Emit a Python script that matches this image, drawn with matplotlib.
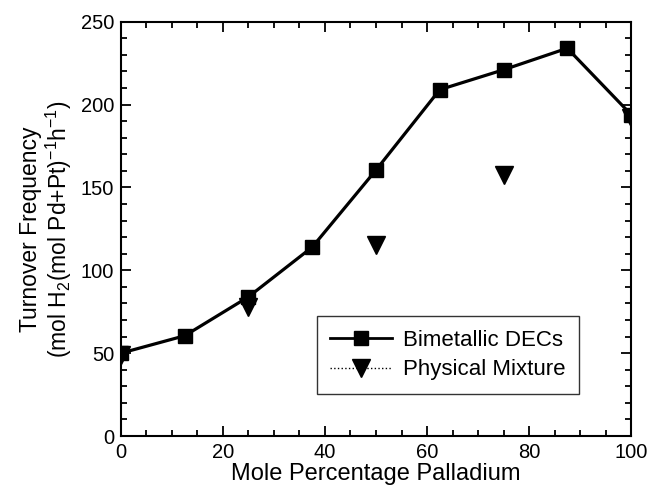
import matplotlib
matplotlib.use("Agg")
import matplotlib.pyplot as plt
from matplotlib.lines import Line2D
from matplotlib.ticker import MultipleLocator

plt.rcParams['font.family'] = ['Liberation Sans', 'DejaVu Sans']
plt.rcParams['mathtext.fontset'] = 'custom'
plt.rcParams['mathtext.rm'] = 'Liberation Sans'
plt.rcParams['mathtext.it'] = 'Liberation Sans'

bimetallic_x = [0, 12.5, 25, 37.5, 50, 62.5, 75, 87.5, 100]
bimetallic_y = [50, 60.5, 84, 114, 160.5, 209, 221, 234, 194]
mixture_x = [0, 25, 50, 75, 100]
mixture_y = [49, 78, 115, 157.5, 192]

fig = plt.figure(figsize=(6.49, 4.94), dpi=100)
ax = fig.add_axes([0.1864, 0.1174, 0.9723 - 0.1864, 0.956 - 0.1174])

ax.plot(bimetallic_x, bimetallic_y, color='black', lw=2.3, marker='s', ms=10, zorder=3)
ax.plot(mixture_x, mixture_y, color='black', ls='none', marker='v', ms=13, zorder=2)

ax.set_xlim(0, 100)
ax.set_ylim(0, 250)
ax.xaxis.set_major_locator(MultipleLocator(20))
ax.xaxis.set_minor_locator(MultipleLocator(5))
ax.yaxis.set_major_locator(MultipleLocator(50))
ax.yaxis.set_minor_locator(MultipleLocator(10))
ax.tick_params(which='both', direction='in', top=True, right=True, width=1.3, labelsize=14.5)
ax.tick_params(which='major', length=7, pad=5)
ax.tick_params(which='minor', length=4)
for s in ax.spines.values():
    s.set_linewidth(1.5)

ax.set_xlabel('Mole Percentage Palladium', fontsize=17, labelpad=1)
ax.set_ylabel('Turnover Frequency\n(mol H$_2$(mol Pd+Pt)$^{-1}$h$^{-1}$)', fontsize=16.5, labelpad=5, linespacing=1.05)

handles = [
    Line2D([], [], color='black', lw=2, marker='s', ms=10),
    Line2D([], [], color='black', lw=1, ls=':', marker='v', ms=13),
]
leg = ax.legend(handles, ['Bimetallic DECs', 'Physical Mixture'], loc='lower right',
                bbox_to_anchor=(0.92, 0.075), fontsize=16, frameon=True, fancybox=False,
                edgecolor='black', handlelength=2.8, handletextpad=0.5, borderpad=0.6,
                labelspacing=0.4)
leg.get_frame().set_linewidth(1.0)

fig.savefig('out.png', dpi=100)
